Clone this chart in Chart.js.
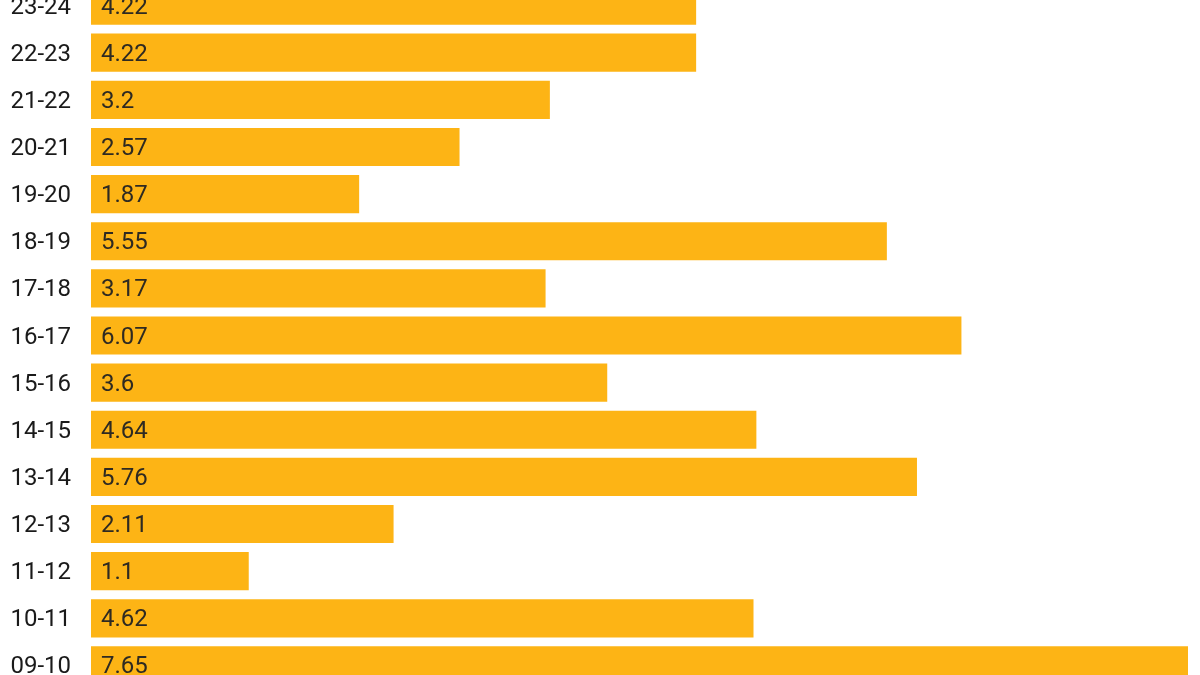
<!DOCTYPE html>
<html>
<head>
<meta charset="utf-8">
<script src="https://cdn.jsdelivr.net/npm/chart.js@4"></script>
<style>
  html, body { margin: 0; padding: 0; background: #fff; }
  #wrap { position: relative; width: 1200px; height: 675px; overflow: hidden; }
  #barChart { position: absolute; left: 0; top: -18px; }
</style>
</head>
<body>
<div id="wrap">
  <canvas id="barChart" width="1200" height="707"></canvas>
</div>
<script>
// Seasons, top to bottom as drawn
const seasons = ['23-24', '22-23', '21-22', '20-21', '19-20', '18-19', '17-18', '16-17',
                 '15-16', '14-15', '13-14', '12-13', '11-12', '10-11', '09-10'];
const values = [4.22, 4.22, 3.2, 2.57, 1.87, 5.55, 3.17, 6.07,
                3.6, 4.64, 5.76, 2.11, 1.1, 4.62, 7.65];

// Writes the value at the start of each bar
const valueLabels = {
    id: 'valueLabels',
    afterDatasetsDraw(chart) {
        const ctx = chart.ctx;
        const meta = chart.getDatasetMeta(0);
        ctx.save();
        ctx.font = '24px Roboto';
        ctx.fillStyle = '#2e2a22';
        ctx.textAlign = 'left';
        ctx.textBaseline = 'middle';
        meta.data.forEach((bar, i) => {
            ctx.fillText(String(values[i]), bar.base + 10, bar.y + 2);
        });
        ctx.restore();
    }
};

const ctx = document.getElementById('barChart').getContext('2d');
new Chart(ctx, {
    type: 'bar',
    data: {
        labels: seasons,
        datasets: [{
            data: values,
            backgroundColor: '#FDB415',
            borderWidth: 0,
            categoryPercentage: 0.81,
            barPercentage: 1,
        }],
    },
    options: {
        indexAxis: 'y',
        responsive: false,
        animation: false,
        layout: { padding: { left: 0, right: 12, top: 0, bottom: 0 } },
        plugins: {
            legend: { display: false },
            tooltip: { enabled: false },
        },
        scales: {
            x: {
                display: false,
                min: 0,
                max: 7.65,
            },
            y: {
                grid: { display: false, drawTicks: false },
                border: { display: false },
                ticks: {
                    color: '#1a1a1a',
                    padding: 20,
                    labelOffset: 2,
                    font: { family: 'Roboto', size: 24 },
                },
                // fixed axis width, and no extra label padding so the bands fill the canvas
                afterFit(scale) {
                    scale.width = 91;
                    scale.paddingTop = 0;
                    scale.paddingBottom = 0;
                },
            },
        },
    },
    plugins: [valueLabels],
});
</script>
</body>
</html>
